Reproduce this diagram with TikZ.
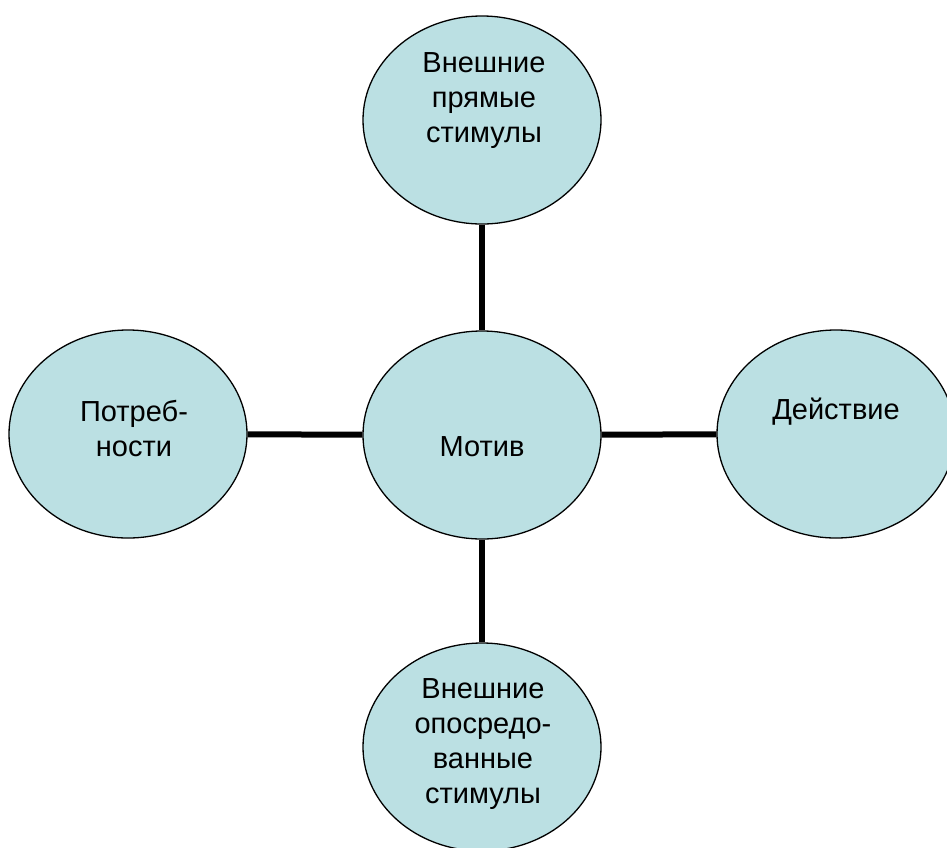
\documentclass[tikz,border=0pt]{standalone}
\usepackage{fontspec}
\setmainfont{Liberation Sans}
\usepackage{tikz}
\usetikzlibrary{shapes.geometric}
\definecolor{motivfill}{RGB}{187,224,227}

\begin{document}
\begin{tikzpicture}[x=1pt,y=-1pt,
  blob/.style={ellipse,draw=black,line width=1.3pt,fill=motivfill,
    minimum width=238pt,minimum height=208pt,inner sep=0pt},
  blobtext/.style={align=center,font=\fontsize{29}{35}\selectfont},
  link/.style={line width=6pt}]
  \useasboundingbox (0,0) rectangle (947,847);
  \clip (0,0) rectangle (947,847);
  \node[blob] (motiv) at (482,435) {};
  \node[blob] (stimtop) at (482,120) {};
  \node[blob] (needs) at (128,434) {};
  \node[blob] (action) at (836,434) {};
  \node[blob] (stimbot) at (482,747) {};
  \draw[link] (stimtop) -- (motiv);
  \draw[link] (needs) -- (motiv);
  \draw[link] (motiv) -- (action);
  \draw[link] (motiv) -- (stimbot);
  \node[blobtext] (motivtext) at (482,447) {Мотив};
  \node[blobtext] (stimtoptext) at (484,101) {Внешние\\прямые\\ стимулы};
  \node[blobtext] (needstext) at (134,428) {Потреб-\\ности};
  \node[blobtext] (actiontext) at (836,412) {Действие};
  \node[blobtext] (stimbottext) at (483,744) {Внешние\\опосредо-\\ванные\\стимулы};
\end{tikzpicture}
\end{document}
